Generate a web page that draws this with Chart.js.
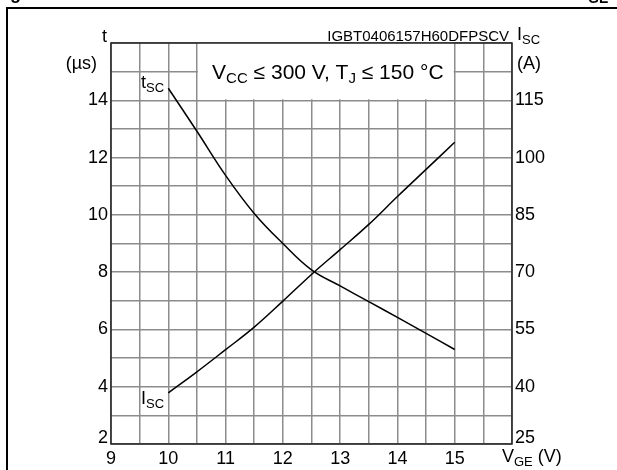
<!DOCTYPE html>
<html>
<head>
<meta charset="utf-8">
<script src="https://cdn.jsdelivr.net/npm/chart.js@4.4.1/dist/chart.umd.min.js"></script>
<style>
  html, body { margin: 0; padding: 0; background: #fff; }
  canvas { display: block; }
</style>
</head>
<body>
<canvas id="chart" width="617" height="470"></canvas>
<script>
// values
const vge = [10, 10.5, 11, 11.5, 12, 12.5, 13, 13.5, 14, 14.5, 15];
const tsc = [14.42, 12.92, 11.38, 10.05, 9.0, 8.08, 7.52, 6.97, 6.42, 5.86, 5.30];
const isc = [38.4, 43.9, 49.7, 55.6, 62.4, 69.4, 75.9, 82.5, 89.8, 96.9, 104.0];

const xTicks = [9, 10, 11, 12, 13, 14, 15];
const tTicks = [4, 6, 8, 10, 12, 14];
const iTicks = [40, 55, 70, 85, 100, 115];

const FONT = '"Liberation Sans", Arial, sans-serif';
const GRID = '#8c8c8c';

// draw text runs like [['V',20,0],['CC',14,4]] starting at x
function runs(ctx, parts, x, y, align) {
  let w = 0;
  parts.forEach(p => { ctx.font = (p[3] || '') + p[1] + 'px ' + FONT; w += ctx.measureText(p[0]).width; });
  if (align === 'center') x -= w / 2;
  if (align === 'right') x -= w;
  ctx.textAlign = 'left';
  ctx.textBaseline = 'alphabetic';
  parts.forEach(p => {
    ctx.font = (p[3] || '') + p[1] + 'px ' + FONT;
    ctx.fillText(p[0], x, y + p[2]);
    x += ctx.measureText(p[0]).width;
  });
}

const decor = {
  id: 'decor',
  beforeDraw(chart) {
    const ctx = chart.ctx;
    ctx.save();
    ctx.fillStyle = '#fff';
    ctx.fillRect(0, 0, chart.width, chart.height);
    ctx.restore();
  },
  beforeDatasetsDraw(chart) {
    const { ctx, scales: { x, y } } = chart;
    // blank box for the conditions text
    const l = x.getPixelForValue(10.5), r = x.getPixelForValue(15);
    const t = y.getPixelForValue(16), b = y.getPixelForValue(14);
    ctx.save();
    ctx.fillStyle = '#fff';
    ctx.fillRect(l + 1, t, r - l - 2, b - t - 1);
    ctx.fillStyle = '#000';
    runs(ctx, [['V', 21, 0], ['CC', 15, 4], [' \u2264 300 V, T', 21, 0], ['J', 15, 4], [' \u2264 150 \u00b0C', 21, 0]],
      (l + r) / 2 + 2, t + 36, 'center');
    ctx.restore();
  },
  afterDatasetsDraw(chart) {
    const { ctx, chartArea: a, scales: { x, y, y2 } } = chart;
    ctx.save();
    // plot frame
    ctx.strokeStyle = '#222';
    ctx.lineWidth = 1.5;
    ctx.strokeRect(a.left, a.top, a.right - a.left, a.bottom - a.top);

    // outer page frame
    ctx.strokeStyle = '#000';
    ctx.lineWidth = 2;
    ctx.beginPath();
    ctx.moveTo(7, 480); ctx.lineTo(7, 8); ctx.lineTo(630, 8);
    ctx.stroke();

    ctx.fillStyle = '#000';
    // clipped title fragments
    runs(ctx, [['g', 18, 0, 'bold ']], 10, -1, 'left');
    runs(ctx, [['GE', 14, 0, 'bold ']], 588, 3, 'left');

    // axis titles
    runs(ctx, [['t', 18, 0]], 107, 42, 'right');
    runs(ctx, [['(\u00b5s)', 18, 0]], 97, 69, 'right');
    runs(ctx, [['I', 18, 0], ['SC', 13, 4]], 517, 40, 'left');
    runs(ctx, [['(A)', 18, 0]], 517, 69, 'left');
    runs(ctx, [['V', 18, 0], ['GE', 13, 4], [' (V)', 18, 0]], 502, 462, 'left');
    runs(ctx, [['IGBT0406157H60DFPSCV', 15, 0]], a.right - 3, a.top - 2, 'right');

    // bottom labels sit above the gridline
    runs(ctx, [['2', 18, 0]], a.left - 3, y.getPixelForValue(2) - 1, 'right');
    runs(ctx, [['25', 18, 0]], a.right + 3, y2.getPixelForValue(25) - 1, 'left');

    // curve labels
    runs(ctx, [['t', 18, 0], ['SC', 13, 4]], 141, 88, 'left');
    runs(ctx, [['I', 18, 0], ['SC', 13, 4]], 141, 404, 'left');
    ctx.restore();
  }
};

new Chart(document.getElementById('chart'), {
  type: 'line',
  data: {
    labels: vge,
    datasets: [
      {
        label: 'tSC',
        data: vge.map((v, i) => ({ x: v, y: tsc[i] })),
        yAxisID: 'y',
        borderColor: '#000',
        borderWidth: 1.5,
        pointRadius: 0,
        tension: 0.4,
        fill: false
      },
      {
        label: 'ISC',
        data: vge.map((v, i) => ({ x: v, y: isc[i] })),
        yAxisID: 'y2',
        borderColor: '#000',
        borderWidth: 1.5,
        pointRadius: 0,
        tension: 0.4,
        fill: false
      }
    ]
  },
  options: {
    responsive: false,
    animation: false,
    devicePixelRatio: 1,
    layout: { padding: { top: 43, left: 0, right: 0, bottom: 0 } },
    plugins: { legend: { display: false }, tooltip: { enabled: false } },
    scales: {
      x: {
        type: 'linear',
        min: 9, max: 16,
        afterFit: s => { s.height = 26; },
        border: { display: false },
        grid: { color: GRID, lineWidth: 1.5, drawTicks: false },
        ticks: {
          stepSize: 0.5, padding: 4, color: '#000', maxRotation: 0, autoSkip: false,
          font: { family: FONT, size: 18 },
          callback: v => xTicks.includes(v) ? String(v) : ''
        }
      },
      y: {
        type: 'linear', position: 'left',
        min: 2, max: 16,
        afterFit: s => { s.width = 111; },
        border: { display: false },
        grid: { color: GRID, lineWidth: 1.5, drawTicks: false },
        ticks: {
          stepSize: 1, padding: 3, color: '#000', autoSkip: false,
          font: { family: FONT, size: 18 },
          callback: v => tTicks.includes(v) ? String(v) : ''
        }
      },
      y2: {
        type: 'linear', position: 'right',
        min: 25, max: 130,
        afterFit: s => { s.width = 105; },
        border: { display: false },
        grid: { display: false, drawTicks: false },
        ticks: {
          stepSize: 7.5, padding: 3, color: '#000', autoSkip: false,
          font: { family: FONT, size: 18 },
          callback: v => iTicks.includes(v) ? String(v) : ''
        }
      }
    }
  },
  plugins: [decor]
});
</script>
</body>
</html>
